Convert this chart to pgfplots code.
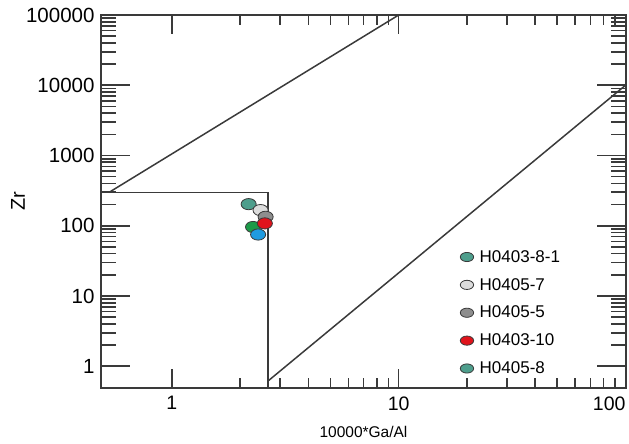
\documentclass[border=0pt]{standalone}
\usepackage{fontspec}
\setmainfont{Liberation Sans}
\usepackage{pgfplots}
\pgfplotsset{compat=1.18}
\definecolor{axgray}{HTML}{3A3A3A}
\definecolor{cteal}{HTML}{4E9E8C}
\definecolor{clight}{HTML}{DCDCDC}
\definecolor{cgray}{HTML}{8E8E8E}
\definecolor{cred}{HTML}{E0141C}
\definecolor{cgreen}{HTML}{1C9A48}
\definecolor{cblue}{HTML}{1F9BE0}
\pgfplotsset{
  pt/.style={only marks, forget plot, mark=*, mark size=5.6pt,
    mark options={xscale=1.35, draw=axgray, line width=0.8pt, fill=#1}},
  lg/.style={only marks, mark=*, mark size=4.6pt,
    mark options={xscale=1.45, draw=axgray, line width=0.8pt, fill=#1}},
}
\begin{document}
\begin{tikzpicture}
\begin{axis}[
  xmode=log, ymode=log,
  scale only axis, width=525pt, height=373pt,
  xmin=0.487, xmax=100.5, ymin=0.49, ymax=100000,
  xtick={1,10,100}, xticklabels={1,10,{\makebox[0pt][r]{100}}},
  ytick={1,10,100,1000,10000,100000},
  yticklabels={1,10,100,1000,10000,100000},
  /pgf/number format/assume math mode=true,
  axis line style={axgray, line width=1.6pt},
  every tick/.style={axgray, line width=1.6pt},
  every major x tick/.append style={/pgfplots/major tick length=19pt},
  every minor x tick/.append style={/pgfplots/minor tick length=10pt},
  every major y tick/.append style={/pgfplots/major tick length=29pt},
  every minor y tick/.append style={/pgfplots/minor tick length=15pt},
  xticklabel style={font=\fontsize{19.5}{21}\selectfont, yshift=-5pt},
  yticklabel style={font=\fontsize{20.5}{22}\selectfont, xshift=-3pt},
  xlabel={10000*Ga/Al}, ylabel={Zr},
  xlabel style={font=\fontsize{15.5}{17}\selectfont, at={(axis description cs:0.5,0)}, yshift=-44pt, anchor=center},
  ylabel style={font=\fontsize{20}{22}\selectfont, at={(axis description cs:0,0.5)}, yshift=83pt, anchor=center},
  legend style={draw=none, fill=none, at={(0.684,0.375)}, anchor=north west,
    font=\fontsize{17}{19}\selectfont, inner sep=0pt, row sep=10.5pt,
    cells={anchor=west}},
  legend image code/.code={\draw[#1] plot[only marks] coordinates {(0.22cm,0cm)}; \path (0.22cm+10.5pt,0pt);},
]
\addplot[axgray, line width=1.5pt, no marks, forget plot] coordinates {(0.487,298) (2.66,298) (2.66,0.49)};
\addplot[axgray, line width=1.5pt, no marks, forget plot] coordinates {(0.528,298) (10,100000)};
\addplot[axgray, line width=1.5pt, no marks, forget plot] coordinates {(2.66,0.62) (100,10000)};
\addplot[pt=cteal] coordinates {(2.18,203)};
\addplot[pt=clight] coordinates {(2.46,167)};
\addplot[pt=cgray] coordinates {(2.59,134)};
\addplot[pt=cgreen] coordinates {(2.28,96)};
\addplot[pt=cred] coordinates {(2.57,108)};
\addplot[pt=cblue] coordinates {(2.40,75)};
\addlegendimage{lg=cteal}\addlegendentry{H0403-8-1}
\addlegendimage{lg=clight}\addlegendentry{H0405-7}
\addlegendimage{lg=cgray}\addlegendentry{H0405-5}
\addlegendimage{lg=cred}\addlegendentry{H0403-10}
\addlegendimage{lg=cteal}\addlegendentry{H0405-8}
\end{axis}
\pgfresetboundingbox
\useasboundingbox (-101pt,-56pt) rectangle (528pt,388pt);
\end{tikzpicture}
\end{document}
